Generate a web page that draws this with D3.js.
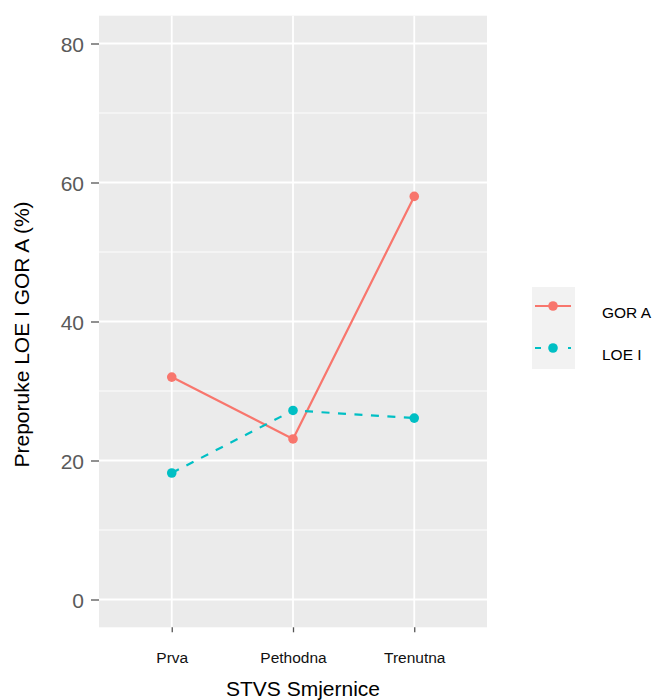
<!DOCTYPE html>
<html><head><meta charset="utf-8">
<script src="https://cdn.jsdelivr.net/npm/d3@7"></script>
<style>body{margin:0;background:#fff}svg{display:block}text{font-family:"Liberation Sans",Arial,sans-serif}</style>
</head><body>
<script>
const categories = ["Prva", "Pethodna", "Trenutna"];
const seriesNames = ["GOR A", "LOE I"];
const gorA = [32, 23.1, 58];
const loeI = [18.2, 27.2, 26.1];
const yTicks = [0, 20, 40, 60, 80];
const yMinor = [10, 30, 50, 70];
const colors = ["#F8766D", "#00BFC4"];

const W = 656, H = 700;
const svg = d3.select("body").append("svg").attr("width", W).attr("height", H);
const P = {left: 99, right: 487, top: 15.7, bottom: 627.3};

const x = d3.scalePoint().domain(categories).range([P.left, P.right]).padding(0.6);
const y = d3.scaleLinear().domain([-4, 84]).range([P.bottom, P.top]);

svg.append("rect").attr("x", P.left).attr("y", P.top).attr("width", P.right - P.left)
  .attr("height", P.bottom - P.top).attr("fill", "#EBEBEB");
const g = svg.append("g");
g.selectAll(".minor").data(yMinor).enter().append("line")
  .attr("x1", P.left).attr("x2", P.right).attr("y1", d => y(d)).attr("y2", d => y(d))
  .attr("stroke", "#fff").attr("stroke-width", 0.9);
g.selectAll(".major").data(yTicks).enter().append("line")
  .attr("x1", P.left).attr("x2", P.right).attr("y1", d => y(d)).attr("y2", d => y(d))
  .attr("stroke", "#fff").attr("stroke-width", 1.8);
g.selectAll(".vmajor").data(categories).enter().append("line")
  .attr("y1", P.top).attr("y2", P.bottom).attr("x1", d => x(d)).attr("x2", d => x(d))
  .attr("stroke", "#fff").attr("stroke-width", 1.8);

// axes
const yAxis = d3.axisLeft(y).tickValues(yTicks).tickSize(8).tickPadding(7);
const ya = svg.append("g").attr("transform", `translate(${P.left},0)`).call(yAxis);
ya.select(".domain").remove();
ya.selectAll("line").attr("stroke", "#555").attr("stroke-width", 1.3);
ya.selectAll("text").attr("fill", "#5a5a5a").style("font-size", "21px").attr("dy", "0.36em");

const xAxis = d3.axisBottom(x).tickSize(5).tickPadding(20);
const xa = svg.append("g").attr("transform", `translate(0,${P.bottom})`).call(xAxis);
xa.select(".domain").remove();
xa.selectAll("line").attr("stroke", "#555").attr("stroke-width", 1.3);
xa.selectAll("text").attr("fill", "#111").style("font-size", "15.5px");

svg.append("text").attr("x", (P.left + P.right) / 2 + 10).attr("y", 696).attr("text-anchor", "middle")
  .style("font-size", "21px").attr("fill", "#000").text("STVS Smjernice");
svg.append("text").attr("transform", `translate(29,${(202 + 467) / 2}) rotate(-90)`)
  .attr("text-anchor", "middle").style("font-size", "21px").attr("fill", "#000")
  .text("Preporuke LOE I GOR A (%)");

// lines
const data = [gorA, loeI];
const line = d3.line().x((d, i) => x(categories[i])).y(d => y(d));
data.forEach((vals, k) => {
  svg.append("path").datum(vals).attr("d", line).attr("fill", "none")
    .attr("stroke", colors[k]).attr("stroke-width", 2.2)
    .attr("stroke-dasharray", k === 1 ? "8,8.5" : null);
  svg.selectAll(".pt" + k).data(vals).enter().append("circle")
    .attr("cx", (d, i) => x(categories[i])).attr("cy", d => y(d)).attr("r", 4.8)
    .attr("fill", colors[k]);
});

// legend
const lg = svg.append("g");
lg.append("rect").attr("x", 532).attr("y", 287).attr("width", 43).attr("height", 82).attr("fill", "#F2F2F2");
const ly = [306, 348];
const ty = [312.5, 354];
seriesNames.forEach((n, k) => {
  lg.append("line").attr("x1", 535).attr("x2", 571).attr("y1", ly[k]).attr("y2", ly[k])
    .attr("stroke", colors[k]).attr("stroke-width", 2.2)
    .attr("stroke-dasharray", k === 1 ? "6,27,4" : null);
  lg.append("circle").attr("cx", 553).attr("cy", ly[k]).attr("r", 4.8).attr("fill", colors[k]);
  lg.append("text").attr("x", 602).attr("y", ty[k]).attr("dy", "0.36em")
    .style("font-size", "15.5px").attr("fill", "#000").text(n);
});
</script>
</body></html>
